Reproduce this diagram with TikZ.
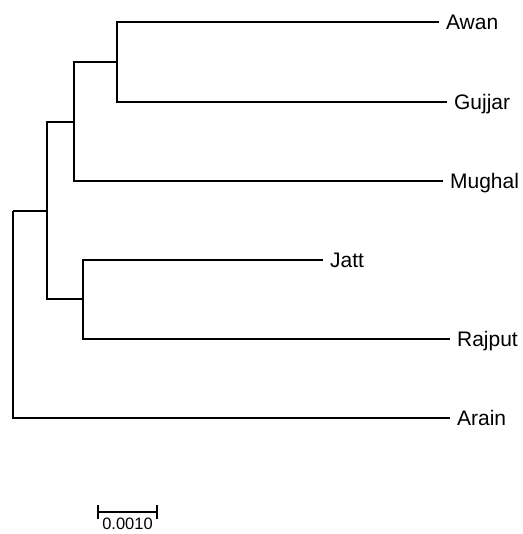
\documentclass[tikz,border=0pt]{standalone}
\usepackage{fontspec}
\setmainfont{Liberation Sans}
\begin{document}
\begin{tikzpicture}[x=1pt,y=-1pt,line width=1.2pt,
    taxon/.style={anchor=west,inner xsep=6.5pt,inner ysep=0pt,
      text height=15pt,text depth=0pt,font=\fontsize{21}{24}\selectfont}]
    \useasboundingbox (0,0) rectangle (522,534);
    % Leaves
    \node[taxon] (awan) at (439,22) {Awan};
    \node[taxon] (gujjar) at (447,102) {Gujjar};
    \node[taxon] (mughal) at (443,181) {Mughal};
    \node[taxon] (jatt) at (323,260) {Jatt};
    \node[taxon] (rajput) at (450,339) {Rajput};
    \node[taxon] (arain) at (450,418) {Arain};
    % Inner nodes
    \coordinate (ag) at (117,62);
    \coordinate (agm) at (74,122);
    \coordinate (jr) at (83,299);
    \coordinate (mid) at (47,211);
    \coordinate (root) at (13,211);
    % Awan + Gujjar
    \draw (ag) |- (awan.west);
    \draw (ag) |- (gujjar.west);
    % with Mughal
    \draw (agm) |- (ag);
    \draw (agm) |- (mughal.west);
    % Jatt + Rajput
    \draw (jr) |- (jatt.west);
    \draw (jr) |- (rajput.west);
    % joining both groups
    \draw (mid) |- (agm);
    \draw (mid) |- (jr);
    % root with Arain
    \draw (root) -- (mid);
    \draw (root) |- (arain.west);
    % Scale bar
    \coordinate (sbl) at (98,512);
    \coordinate (sbr) at (157,512);
    \draw (sbl) -- (sbr);
    \draw ([yshift=-7pt]sbl) -- ([yshift=7pt]sbl);
    \draw ([yshift=-7pt]sbr) -- ([yshift=7pt]sbr);
    \node[anchor=north,inner sep=0pt,text height=11.5pt,text depth=0pt,
        font=\fontsize{16.5}{19}\selectfont] (scale)
        at (127.5,517) {0.0010};
\end{tikzpicture}
\end{document}
